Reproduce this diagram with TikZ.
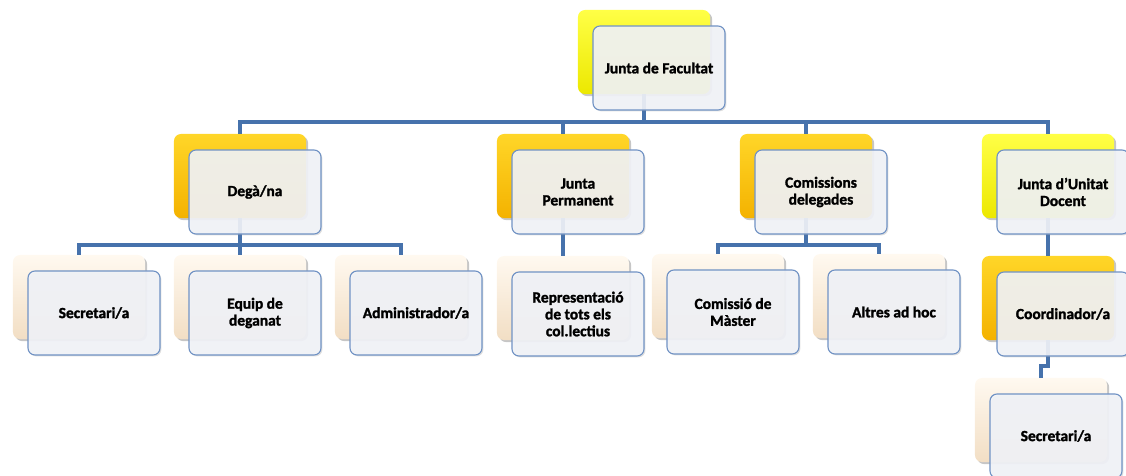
\documentclass[tikz,border=0pt]{standalone}
\usepackage{fontspec}
\setmainfont{Carlito}
\newfontfamily\boxfont{Carlito}[BoldFeatures={FakeBold=1.6}]
\usetikzlibrary{shadows}

\definecolor{linkblue}{RGB}{70,114,172}
\definecolor{frameblue}{RGB}{112,146,196}
\definecolor{frontfill}{RGB}{242,244,249}
\definecolor{yelT}{RGB}{255,255,70}
\definecolor{yelB}{RGB}{236,232,0}
\definecolor{golT}{RGB}{255,214,40}
\definecolor{golB}{RGB}{244,178,0}
\definecolor{crmT}{RGB}{255,249,240}
\definecolor{crmB}{RGB}{242,222,196}

\begin{document}
\begin{tikzpicture}[x=0.025cm, y=-0.025cm,
  backbox/.style={rectangle, rounded corners=5pt, minimum width=3.3cm, minimum height=2.1cm,
    drop shadow={opacity=0.45, shadow xshift=1.5pt, shadow yshift=-1.5pt}},
  frontbox/.style={rectangle, rounded corners=5pt, minimum width=3.3cm, minimum height=2.1cm,
    draw=frameblue, line width=0.8pt, fill=frontfill, fill opacity=0.9, text opacity=1,
    align=center, font=\boxfont\bfseries\fontsize{11}{12}\selectfont,
    drop shadow={opacity=0.25, shadow xshift=1pt, shadow yshift=-1pt}},
  link/.style={linkblue, line width=2.2pt}]

\useasboundingbox (0,0) rectangle (1126,475);

% coloured boxes behind
\foreach \name/\x/\y/\tc/\bc in {jf/644/52/yelT/yelB, dega/240/176/golT/golB, jp/563/176/golT/golB,
    cd/806/176/golT/golB, jud/1048/176/yelT/yelB, seca/79/297/crmT/crmB, eq/240/297/crmT/crmB,
    adm/401/297/crmT/crmB, rep/563/298/crmT/crmB, cm/718/296/crmT/crmB, ah/879/296/crmT/crmB,
    coord/1048/298/golT/golB, secb/1041/420/crmT/crmB}
  \node[backbox, top color=\tc, bottom color=\bc] (\name-b) at (\x,\y) {};

% connectors
\coordinate (bus-jf) at (644,122);
\draw[link] (jf-b.south) -- (bus-jf) -| (dega-b.north);
\draw[link] (bus-jf) -| (jp-b.north);
\draw[link] (bus-jf) -| (cd-b.north);
\draw[link] (bus-jf) -| (jud-b.north);

\coordinate (bus-dega) at (240,245);
\draw[link] (dega-b.south) -- (bus-dega) -| (seca-b.north);
\draw[link] (bus-dega) -- (eq-b.north);
\draw[link] (bus-dega) -| (adm-b.north);

\draw[link] (jp-b.south) -- (rep-b.north);

\coordinate (bus-cd) at (806,245);
\draw[link] (cd-b.south) -- (bus-cd) -| (cm-b.north);
\draw[link] (bus-cd) -| (ah-b.north);

\draw[link] (jud-b.south) -- (coord-b.north);

\coordinate (bus-coord) at (1048,366);
\draw[link] (coord-b.south) -- (bus-coord) -| (secb-b.north);

% labelled boxes in front
\foreach \name/\label in {jf/Junta de Facultat, dega/{Degà/na}, jp/{Junta\\Permanent},
    cd/{Comissions\\delegades}, jud/{Junta d’Unitat\\Docent}, seca/{Secretari/a},
    eq/{Equip de\\deganat}, adm/{Administrador/a}, rep/{Representació\\de tots els\\col.lectius},
    cm/{Comissió de\\Màster}, ah/{Altres ad hoc}, coord/{Coordinador/a}, secb/{Secretari/a}}
  \node[frontbox] (\name) at ([shift={(15,16)}]\name-b.center) {\label};

\end{tikzpicture}
\end{document}
